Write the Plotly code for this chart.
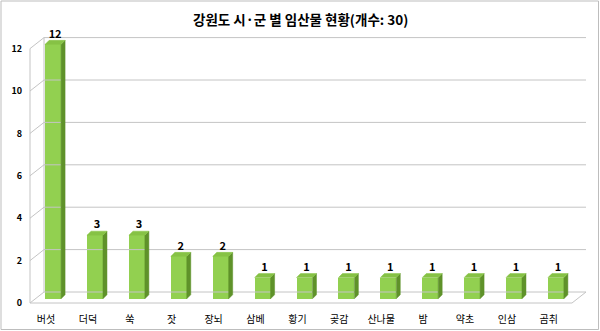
import plotly.graph_objects as go

# ---- data ----
categories = ["버섯", "더덕", "쑥", "잣", "장뇌", "삼베", "황기", "곶감", "산나물", "밤", "약초", "인삼", "곰취"]
values = [12, 3, 3, 2, 2, 1, 1, 1, 1, 1, 1, 1, 1]
y_ticks = [0, 2, 4, 6, 8, 10, 12]
title_text = "강원도 시·군 별 임산물 현황(개수: 30)"

# ---- layout geometry (pixels -> data units) ----
W, H = 600, 331
PX_X = 41.9          # pixels per category
X0_PIX = 46          # pixel of category 0 label
PX_Y = 21.2          # pixels per unit value
Y0_PIX = 303         # pixel of value 0 on the front axis
L_PIX, B_PIX = 26, 306

x_min = (L_PIX - X0_PIX) / PX_X
x_max = (W - X0_PIX) / PX_X
y_min = (Y0_PIX - B_PIX) / PX_Y
y_max = Y0_PIX / PX_Y

front_x = (30 - X0_PIX) / PX_X
floor_end = (572 - X0_PIX) / PX_X
dx_wall, dy_wall = 14 / PX_X, 11 / PX_Y       # depth offset of back wall
bar_off, bar_w, bar_base = 0.17, 0.38, 0.2    # bar placement (mid depth)
dxb, dyb = 4 / PX_X, 4 / PX_Y                 # bar depth

grid_col = "#c4c4c4"

fig = go.Figure()

# back wall gridlines + left wall diagonals
gx, gy = [], []
for t in y_ticks:
    gx += [front_x, front_x + dx_wall, floor_end + dx_wall, None]
    gy += [t, t + dy_wall, t + dy_wall, None]
gx += [front_x, front_x, None, front_x + dx_wall, front_x + dx_wall, None]
gy += [0, y_ticks[-1], None, dy_wall, y_ticks[-1] + dy_wall, None]
# floor front edge and right diagonal
gx += [front_x, floor_end, floor_end + dx_wall, None]
gy += [0, 0, dy_wall, None]
fig.add_trace(go.Scatter(x=gx, y=gy, mode="lines", line=dict(color=grid_col, width=1),
                         hoverinfo="skip", showlegend=False))

xc = [i + bar_off for i in range(len(categories))]

# front faces
fig.add_trace(go.Bar(x=xc, y=values, base=bar_base, width=bar_w,
                     marker=dict(color="#92d050", line=dict(width=0)),
                     showlegend=False, hoverinfo="skip"))

# side faces and top faces
sx, sy, tx, ty = [], [], [], []
for c, v in zip(xc, values):
    xl, xr = c - bar_w / 2, c + bar_w / 2
    top = bar_base + v
    sx += [xr, xr + dxb, xr + dxb, xr, xr, None]
    sy += [bar_base, bar_base + dyb, top + dyb, top, bar_base, None]
    tx += [xl, xl + dxb, xr + dxb, xr, xl, None]
    ty += [top, top + dyb, top + dyb, top, top, None]
fig.add_trace(go.Scatter(x=sx, y=sy, mode="lines", fill="toself", fillcolor="#5f922a",
                         line=dict(width=0.5, color="#5f922a"), hoverinfo="skip", showlegend=False))
fig.add_trace(go.Scatter(x=tx, y=ty, mode="lines", fill="toself", fillcolor="#86c245",
                         line=dict(width=0.5, color="#86c245"), hoverinfo="skip", showlegend=False))

# value labels
fig.add_trace(go.Scatter(x=[c + dxb / 2 for c in xc], y=[bar_base + v + dyb for v in values],
                         mode="text", text=[str(v) for v in values], textposition="top center",
                         textfont=dict(family="Noto Sans CJK KR", size=11, color="#000000", weight="bold"),
                         hoverinfo="skip", showlegend=False, cliponaxis=False))

fig.update_layout(
    width=W, height=H,
    margin=dict(l=L_PIX, r=0, t=0, b=H - B_PIX, autoexpand=False),
    paper_bgcolor="white", plot_bgcolor="white",
    bargap=0,
    xaxis=dict(range=[x_min, x_max], showgrid=False, zeroline=False, showline=False,
               tickmode="array", tickvals=list(range(len(categories))), ticktext=categories,
               ticks="", ticklabelstandoff=6, automargin=False,
               tickfont=dict(family="Noto Sans CJK KR", size=10, color="#000000")),
    yaxis=dict(range=[y_min, y_max], showgrid=False, zeroline=False, showline=False,
               tickmode="array", tickvals=y_ticks, ticktext=[str(t) for t in y_ticks],
               ticks="", ticklabelstandoff=3, automargin=False,
               tickfont=dict(family="Noto Sans CJK KR", size=9, color="#000000", weight="bold")),
    annotations=[dict(text=title_text, xref="paper", yref="paper",
                      x=(300 - L_PIX) / (W - L_PIX), y=1 - (19 / B_PIX),
                      xanchor="center", yanchor="middle", showarrow=False,
                      font=dict(family="Noto Sans CJK KR", size=13.5, color="#000000", weight="bold"))],
    shapes=[dict(type="rect", xref="paper", yref="paper",
                 x0=(1 - L_PIX) / (W - L_PIX), x1=(W - 1.5 - L_PIX) / (W - L_PIX),
                 y0=(B_PIX - (H - 1.5)) / B_PIX, y1=(B_PIX - 1) / B_PIX,
                 line=dict(color="#bdbdbd", width=1), layer="below")],
)

fig.write_html("out.html")
